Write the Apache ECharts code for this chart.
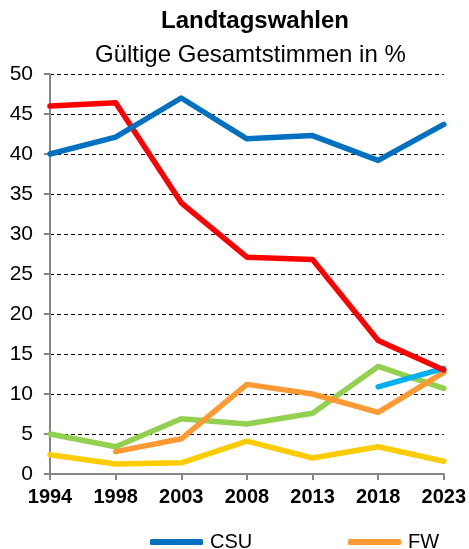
<!DOCTYPE html>
<html>
<head>
<meta charset="utf-8">
<script src="https://cdn.jsdelivr.net/npm/echarts@6/dist/echarts.min.js"></script>
<style>
  html, body { margin: 0; padding: 0; background: #fff; }
  #chart { width: 469px; height: 549px; }
</style>
</head>
<body>
<div id="chart"></div>
<script>
const years = ['1994', '1998', '2003', '2008', '2013', '2018', '2023'];
const csu = [40.0, 42.1, 47.0, 41.9, 42.3, 39.2, 43.7];
const spd = [46.0, 46.4, 33.9, 27.1, 26.8, 16.7, 13.0];
const gruene = [5.0, 3.4, 6.9, 6.25, 7.6, 13.45, 10.7];
const fw = ['-', 2.8, 4.4, 11.2, 10.0, 7.7, 12.7];
const fdp = [2.4, 1.25, 1.4, 4.1, 2.0, 3.4, 1.6];
const afd = ['-', '-', '-', '-', '-', 10.9, 13.2];
const yTicks = { min: 0, max: 50, step: 5 };

const font = 'Liberation Sans, Arial, sans-serif';

function lineSeries(name, data, color) {
    return {
        name: name,
        type: 'line',
        data: data,
        symbol: 'none',
        showSymbol: false,
        animation: false,
        lineStyle: { color: color, width: 5.5, cap: 'round', join: 'round' },
        itemStyle: { color: color }
    };
}

function legendAt(name, left) {
    return {
        data: [{ name: name, icon: 'roundRect' }],
        left: left, top: 532, padding: 0,
        itemWidth: 53, itemHeight: 6, itemGap: 0,
        textStyle: { fontFamily: font, fontSize: 20, color: '#000', padding: [0, 0, 0, 2] }
    };
}

const chart = echarts.init(document.getElementById('chart'));
chart.setOption({
    animation: false,
    title: [
        {
            text: 'Landtagswahlen',
            left: 161, top: 9, padding: 0,
            textStyle: { fontFamily: font, fontSize: 24, fontWeight: 'bold', color: '#000' }
        },
        {
            text: 'Gültige Gesamtstimmen in %',
            left: 95, top: 43, padding: 0,
            textStyle: { fontFamily: font, fontSize: 24, fontWeight: 'normal', color: '#000' }
        }
    ],
    legend: [legendAt('CSU', 150), legendAt('FW', 348)],
    grid: { left: 50, right: 25, top: 74, bottom: 75, containLabel: false },
    xAxis: {
        type: 'category',
        data: years,
        boundaryGap: false,
        axisLine: { lineStyle: { color: '#868686', width: 2 } },
        axisTick: { show: true, length: 6, alignWithLabel: true, lineStyle: { color: '#868686', width: 2 } },
        axisLabel: { margin: 13, fontFamily: font, fontSize: 20, fontWeight: 'bold', color: '#000' },
        splitLine: { show: false }
    },
    yAxis: {
        type: 'value',
        min: yTicks.min, max: yTicks.max, interval: yTicks.step,
        axisLine: { show: true, lineStyle: { color: '#868686', width: 2 } },
        axisTick: { show: true, length: 6, lineStyle: { color: '#868686', width: 2 } },
        axisLabel: { margin: 17, fontFamily: font, fontSize: 21, color: '#000' },
        splitLine: { show: true, lineStyle: { color: '#000', width: 1, type: [4, 3] } }
    },
    series: [
        lineSeries('Grüne', gruene, '#92D050'),
        lineSeries('FDP', fdp, '#FFCC00'),
        lineSeries('FW', fw, '#FF9933'),
        lineSeries('AfD', afd, '#00B0F0'),
        lineSeries('SPD', spd, '#FF0000'),
        lineSeries('CSU', csu, '#0070C0')
    ]
});
</script>
</body>
</html>
